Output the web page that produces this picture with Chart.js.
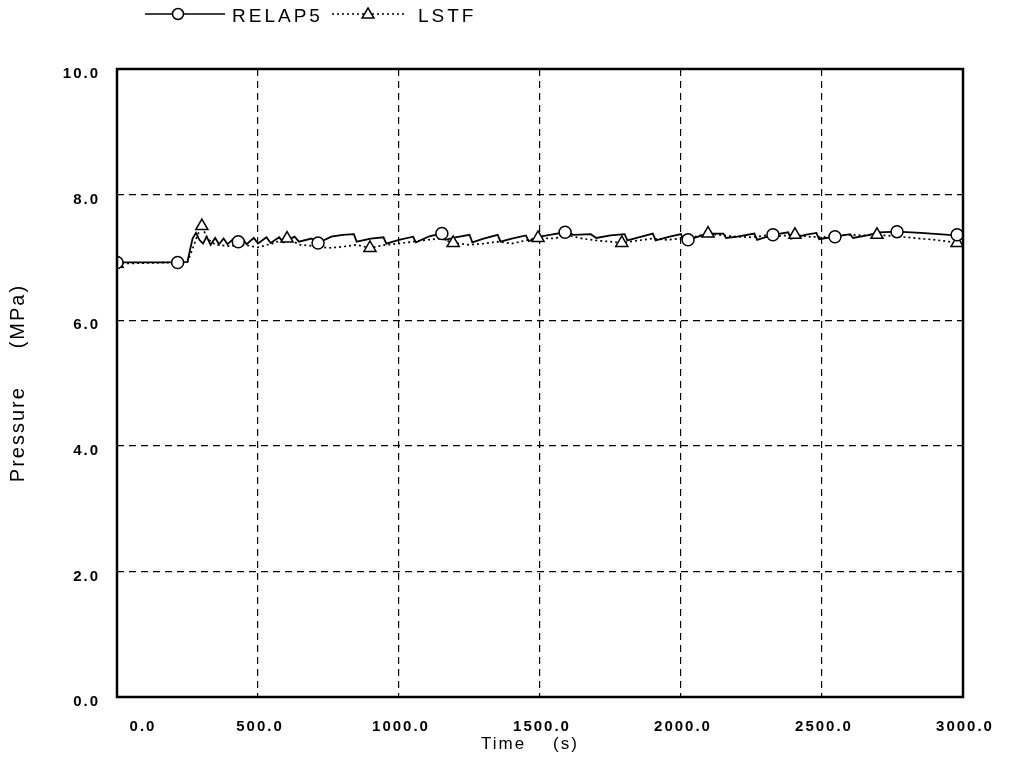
<!DOCTYPE html>
<html>
<head>
<meta charset="utf-8">
<script src="https://cdn.jsdelivr.net/npm/chart.js@4.4.1/dist/chart.umd.min.js"></script>
<style>
html,body{margin:0;padding:0;background:#fff;}
#wrap{width:1009px;height:760px;position:relative;}
</style>
</head>
<body>
<div id="wrap"><canvas id="c" width="1009" height="760"></canvas></div>
<script>
// ---- data ----
const xTicks = [0, 500, 1000, 1500, 2000, 2500, 3000];
const xTickLabels = ['0.0', '500.0', '1000.0', '1500.0', '2000.0', '2500.0', '3000.0'];
const yTicks = [0, 2, 4, 6, 8, 10];
const yTickLabels = ['0.0', '2.0', '4.0', '6.0', '8.0', '10.0'];

const relapTime = [0,180,250,258,268,280,292,305,318,332,348,362,378,392,412,430,445,460,485,500,530,545,575,590,630,645,690,713,760,800,840,850,900,945,955,1000,1050,1060,1110,1152,1165,1200,1250,1260,1300,1350,1360,1400,1450,1460,1500,1550,1589,1620,1680,1700,1750,1800,1810,1850,1900,1910,1960,2000,2010,2025,2080,2100,2150,2160,2200,2260,2270,2326,2380,2390,2440,2480,2490,2546,2600,2610,2660,2700,2766,2850,2950,3000];
const relapPressure = [6.92,6.92,6.93,7.10,7.30,7.39,7.28,7.22,7.33,7.20,7.31,7.21,7.30,7.21,7.29,7.25,7.30,7.21,7.31,7.22,7.32,7.23,7.32,7.24,7.33,7.25,7.30,7.23,7.33,7.36,7.37,7.25,7.30,7.32,7.22,7.28,7.33,7.24,7.34,7.38,7.28,7.32,7.36,7.24,7.30,7.36,7.25,7.30,7.35,7.26,7.33,7.37,7.40,7.36,7.37,7.31,7.35,7.37,7.27,7.32,7.38,7.27,7.33,7.37,7.26,7.28,7.36,7.38,7.38,7.31,7.33,7.38,7.28,7.36,7.40,7.30,7.36,7.39,7.29,7.33,7.37,7.31,7.35,7.40,7.41,7.39,7.36,7.35];

const lstfTime = [0,100,200,250,265,285,301,320,350,400,450,500,550,603,650,700,750,800,850,897,950,1000,1050,1100,1150,1192,1250,1300,1350,1400,1450,1493,1550,1600,1650,1700,1750,1790,1850,1900,1950,2000,2050,2096,2150,2200,2250,2300,2350,2404,2450,2500,2550,2600,2650,2695,2750,2800,2850,2900,2950,2979,3000];
const lstfPressure = [6.90,6.91,6.92,6.93,7.10,7.35,7.50,7.30,7.20,7.18,7.20,7.16,7.22,7.30,7.20,7.18,7.15,7.17,7.20,7.15,7.20,7.22,7.25,7.28,7.30,7.23,7.20,7.22,7.25,7.22,7.27,7.31,7.30,7.35,7.30,7.27,7.25,7.23,7.27,7.30,7.28,7.30,7.33,7.38,7.35,7.33,7.32,7.35,7.34,7.36,7.33,7.32,7.35,7.36,7.35,7.36,7.34,7.32,7.30,7.28,7.25,7.23,7.22];

const relapMarkTime = [0,215,430,713,1152,1589,2025,2326,2546,2766,2979];
const relapMarkPressure = [6.92,6.92,7.25,7.23,7.38,7.40,7.28,7.36,7.33,7.41,7.36];
const lstfMarkTime = [0,301,603,897,1192,1493,1790,2096,2404,2695,2979];
const lstfMarkPressure = [6.90,7.50,7.30,7.15,7.23,7.31,7.23,7.38,7.36,7.36,7.23];

const seriesNames = ['RELAP5', 'LSTF'];

function pts(xs, ys){ return xs.map((x,i)=>({x:x, y:ys[i]})); }

const FONT = '"Liberation Sans", Arial, Helvetica, sans-serif';

const drawPlugin = {
  id: 'drawPlugin',
  beforeDraw(chart){ chart.ctx.letterSpacing = '2px'; },
  afterDraw(chart){
    const ctx = chart.ctx;
    const a = chart.chartArea;
    const xs = chart.scales.x, ys = chart.scales.y;
    ctx.save();
    // frame
    ctx.strokeStyle = '#000';
    ctx.lineWidth = 2.5;
    ctx.setLineDash([]);
    ctx.strokeRect(a.left, a.top, a.right - a.left, a.bottom - a.top);
    // tick labels
    ctx.fillStyle = '#000';
    ctx.font = 'bold 15px ' + FONT;
    ctx.letterSpacing = '2px';
    ctx.textBaseline = 'middle';
    ctx.textAlign = 'center';
    xTicks.forEach((v,i)=>{
      let px = xs.getPixelForValue(v) + 2;
      if (i === 0) px += 24;
      ctx.fillText(xTickLabels[i], px, 727);
    });
    ctx.textAlign = 'right';
    yTicks.forEach((v,i)=>{
      const py = ys.getPixelForValue(v) + 5;
      ctx.fillText(yTickLabels[i], 100, py);
    });
    // legend
    ctx.lineWidth = 1.5;
    ctx.strokeStyle = '#000';
    ctx.beginPath(); ctx.moveTo(145, 14); ctx.lineTo(225, 14); ctx.stroke();
    ctx.beginPath(); ctx.arc(178, 14, 5.5, 0, Math.PI*2); ctx.fillStyle='#fff'; ctx.fill(); ctx.stroke();
    ctx.setLineDash([2, 3]);
    ctx.beginPath(); ctx.moveTo(332, 14); ctx.lineTo(406, 14); ctx.stroke();
    ctx.setLineDash([]);
    ctx.beginPath(); ctx.moveTo(368, 8); ctx.lineTo(374, 18); ctx.lineTo(362, 18); ctx.closePath();
    ctx.fillStyle='#fff'; ctx.fill(); ctx.stroke();
    ctx.fillStyle = '#000';
    ctx.font = '19px ' + FONT;
    ctx.letterSpacing = '3px';
    ctx.textAlign = 'left';
    ctx.textBaseline = 'alphabetic';
    ctx.fillText(seriesNames[0], 232, 22);
    ctx.fillText(seriesNames[1], 418, 22);
    ctx.restore();
  }
};

new Chart(document.getElementById('c'), {
  type: 'scatter',
  data: {
    datasets: [
      { label: 'RELAP5 markers', data: pts(relapMarkTime, relapMarkPressure), showLine: false,
        pointStyle: 'circle', pointRadius: 6, pointBackgroundColor: '#fff', pointBorderColor: '#000', pointBorderWidth: 1.5, order: 0 },
      { label: 'LSTF markers', data: pts(lstfMarkTime, lstfMarkPressure), showLine: false,
        pointStyle: 'triangle', pointRadius: 7, pointBackgroundColor: '#fff', pointBorderColor: '#000', pointBorderWidth: 1.5, order: 0 },
      { label: 'RELAP5', data: pts(relapTime, relapPressure), showLine: true, borderColor: '#000', borderWidth: 1.8,
        pointRadius: 0, tension: 0, order: 1 },
      { label: 'LSTF', data: pts(lstfTime, lstfPressure), showLine: true, borderColor: '#000', borderWidth: 1.7,
        borderDash: [2, 3], pointRadius: 0, tension: 0, order: 2 }
    ]
  },
  options: {
    responsive: false,
    animation: false,
    devicePixelRatio: 1,
    layout: { padding: { top: 69, right: 46, bottom: 0, left: 0 } },
    plugins: { legend: { display: false }, tooltip: { enabled: false } },
    scales: {
      x: {
        type: 'linear', min: 0, max: 3000,
        ticks: { stepSize: 500, display: false },
        grid: { color: '#000', lineWidth: 1.2, drawTicks: false },
        border: { display: false, dash: [7, 5] },
        title: { display: true, text: 'Time    (s)   ', color: '#000', font: { family: FONT, size: 17 }, padding: { top: 0, bottom: 5 } },
        afterFit(s){ s.height = 63; }
      },
      y: {
        type: 'linear', min: 0, max: 10,
        ticks: { stepSize: 2, display: false },
        grid: { color: '#000', lineWidth: 1.2, drawTicks: false },
        border: { display: false, dash: [7, 5] },
        title: { display: true, text: 'Pressure     (MPa)', color: '#000', font: { family: FONT, size: 20 }, padding: { top: 6, bottom: 0 } },
        afterFit(s){ s.width = 117; }
      }
    }
  },
  plugins: [drawPlugin]
});
</script>
</body>
</html>
